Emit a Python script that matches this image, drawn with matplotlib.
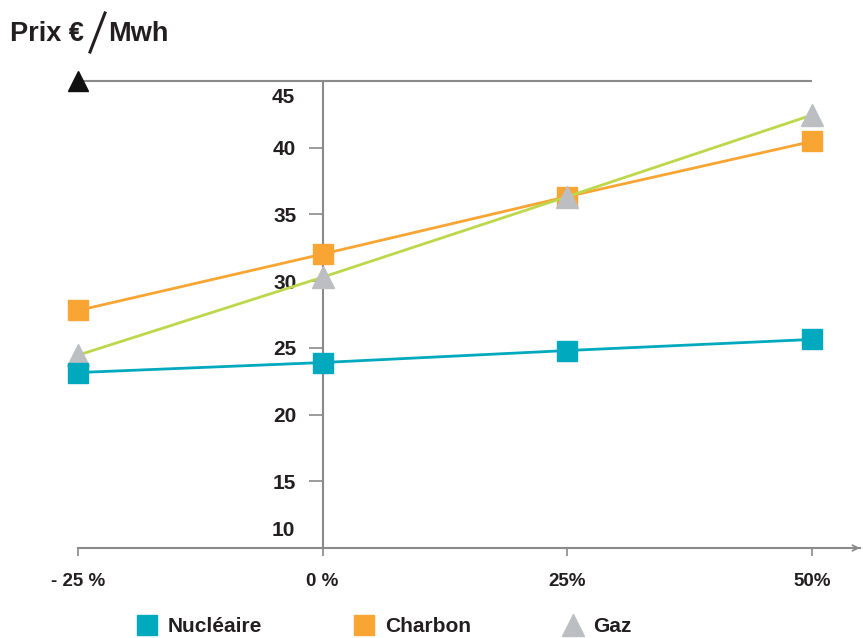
import matplotlib.pyplot as plt
import matplotlib.transforms as mtransforms
from matplotlib.lines import Line2D

# ==========================================
# DATA
# ==========================================
x_vals = [-25, 0, 25, 50]
x_labels = ["- 25 %", "0 %", "25%", "50%"]

nucleaire = [23.15, 23.9, 24.8, 25.63]
charbon = [27.8, 32.03, 36.34, 40.47]
gaz = [24.45, 30.3, 36.34, 42.45]

y_ticks = [15, 20, 25, 30, 35, 40]
y_end_labels = [10, 45]

TEAL = "#00a9bd"
ORANGE = "#f9a533"
GREEN = "#bcd84a"
GREY_MARK = "#bdbec2"
AXIS = "#8a8a8a"
TXT = "#231f20"

plt.rcParams["font.family"] = ["Liberation Sans", "DejaVu Sans"]

# ==========================================
# FIGURE
# ==========================================
W, H = 863, 638
fig = plt.figure(figsize=(W / 100, H / 100), dpi=100)
ax = fig.add_axes([78 / W, (H - 548) / H, (860 - 78) / W, (548 - 81) / H])
ax.set_xlim(-25, 54.9)
ax.set_ylim(10, 45)

# lines (order: charbon, gaz, nucleaire so markers overlap like the original)
ax.plot(x_vals, charbon, color=ORANGE, lw=2, marker="s", ms=13.7,
        mfc=ORANGE, mec=ORANGE, clip_on=False, zorder=3)
ax.plot(x_vals, gaz, color=GREEN, lw=2, marker="^", ms=16,
        mfc=GREY_MARK, mec=GREY_MARK, clip_on=False, zorder=4)
ax.plot(x_vals, nucleaire, color=TEAL, lw=2, marker="s", ms=13.7,
        mfc=TEAL, mec=TEAL, clip_on=False, zorder=5)

# axes styling
for s in ["top", "right"]:
    ax.spines[s].set_visible(False)
ax.spines["left"].set_position(("data", 0))
ax.spines["left"].set_color(AXIS)
ax.spines["left"].set_linewidth(1.5)
ax.spines["bottom"].set_color(AXIS)
ax.spines["bottom"].set_linewidth(1.5)

# top line with black arrow head
ax.hlines(45, x_vals[0], x_vals[-1], color=AXIS, lw=1.5, clip_on=False)
ax.plot([x_vals[0]], [45], marker="^", ms=15, color="#111111", clip_on=False, zorder=6)

# arrow at right end of x axis
ax.annotate("", xy=(54.9, 10), xytext=(53.5, 10),
            arrowprops=dict(arrowstyle="->", color=AXIS, lw=1.3, shrinkA=0, shrinkB=0),
            annotation_clip=False)

ax.set_xticks(x_vals)
ax.set_xticklabels(x_labels, fontweight="bold", fontsize=13.5, color=TXT)
ax.tick_params(axis="x", direction="out", length=6, width=1.2, color=AXIS, pad=12)

ax.set_yticks(y_ticks)
ax.set_yticklabels([str(v) for v in y_ticks], fontweight="bold", fontsize=15, color=TXT)
ax.tick_params(axis="y", direction="out", length=10, width=1.2, color=AXIS, pad=9)

# 10 and 45 labels sit inside the ends of the axis
tr_top = mtransforms.offset_copy(ax.transData, fig=fig, x=-28, y=-16, units="dots")
tr_bot = mtransforms.offset_copy(ax.transData, fig=fig, x=-28, y=17, units="dots")
ax.text(0, y_end_labels[1], str(y_end_labels[1]), transform=tr_top, ha="right", va="center",
        fontweight="bold", fontsize=15, color=TXT)
ax.text(0, y_end_labels[0], str(y_end_labels[0]), transform=tr_bot, ha="right", va="center",
        fontweight="bold", fontsize=15, color=TXT)

# title "Prix € / Mwh" with a tall slash
fig.text(10 / W, 1 - 34 / H, "Prix €", fontsize=19.5, fontweight="bold", color=TXT,
         ha="left", va="center")
fig.text(108 / W, 1 - 34 / H, "Mwh", fontsize=19.5, fontweight="bold", color=TXT,
         ha="left", va="center")
fig.add_artist(Line2D([90 / W, 105 / W], [1 - 52 / H, 1 - 13 / H], color=TXT, lw=2.2))

# legend
handles = [
    Line2D([], [], ls="none", marker="s", ms=14, mfc=TEAL, mec=TEAL),
    Line2D([], [], ls="none", marker="s", ms=14, mfc=ORANGE, mec=ORANGE),
    Line2D([], [], ls="none", marker="^", ms=16, mfc=GREY_MARK, mec=GREY_MARK),
]
fig.legend(handles, ["Nucléaire", "Charbon", "Gaz"], loc="center",
           bbox_to_anchor=(0.445, 1 - 627 / H), ncol=3, frameon=False,
           handlelength=1, handletextpad=0.5, columnspacing=4.4,
           prop=dict(weight="bold", size=15))
for t in fig.legends[0].get_texts():
    t.set_color(TXT)

fig.savefig("out.png", dpi=100)
